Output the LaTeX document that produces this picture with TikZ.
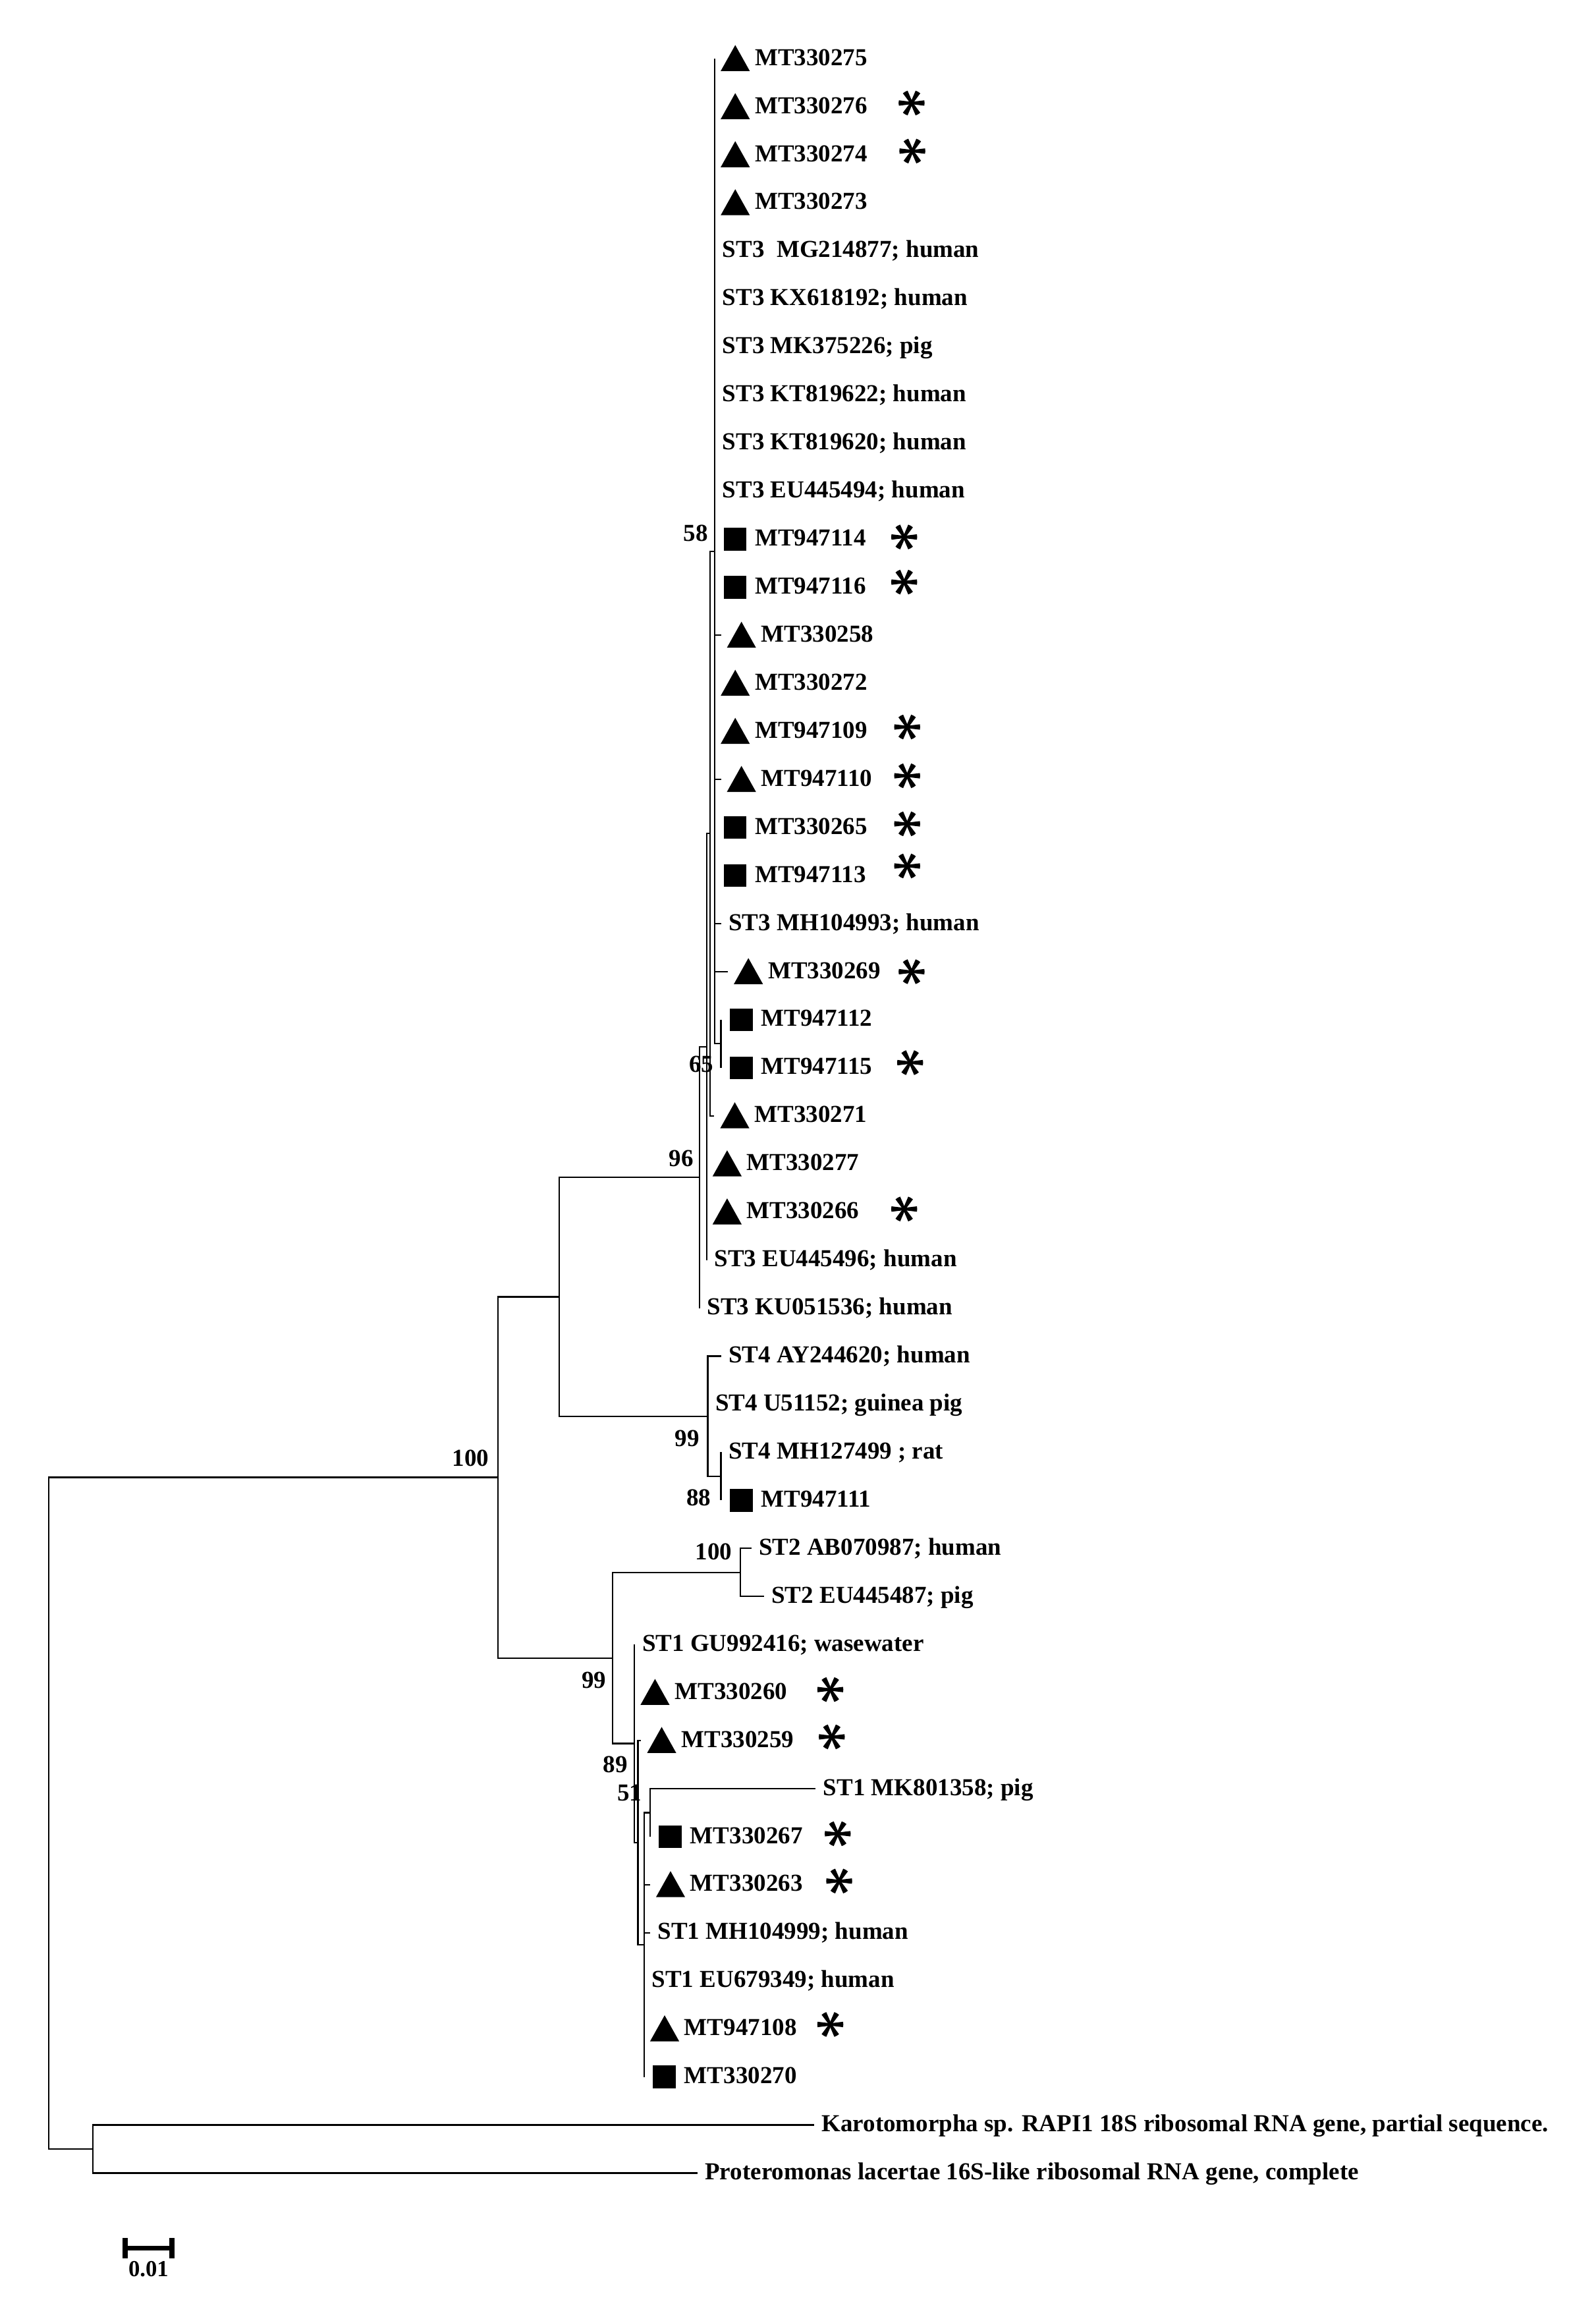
\documentclass[tikz,border=0pt]{standalone}
\usepackage{fontspec}
\setmainfont{Liberation Serif}
\usetikzlibrary{calc}
\newcommand\mkT[4]{%
  \coordinate (t#1) at (#2,{row(#1)});
  \draw[br] (#3) |- (t#1);
  \pic at ($(t#1)+(13.85,0)$) {tri};
  \node[lab] (l#1) at ($(t#1)+(27,4.5)$) {#4};}
\newcommand\mkS[4]{%
  \coordinate (t#1) at (#2,{row(#1)});
  \draw[br] (#3) |- (t#1);
  \pic at ($(t#1)+(13.75,0)$) {sq};
  \node[lab] (l#1) at ($(t#1)+(27,4.5)$) {#4};}
\newcommand\mkX[4]{%
  \coordinate (t#1) at (#2,{row(#1)});
  \draw[br] (#3) |- (t#1);
  \node[lab] (l#1) at ($(t#1)+(5,4.5)$) {#4};}
\newcommand\mkA[3]{\pic at (#2,{row(#1)+#3}) {ast};}
\begin{document}
\begin{tikzpicture}[x=1pt,y=-1pt,
  declare function={row(\i)=39.7+32.52*(\i-1);},
  br/.style={line width=1pt},
  lab/.style={anchor=base west,inner sep=0pt,font=\fontsize{16.5}{16.5}\selectfont\bfseries},
  bs/.style={anchor=center,inner sep=0pt,font=\fontsize{16.5}{16.5}\selectfont\bfseries},
  tri/.pic={\fill (-9.85,8.4) -- (9.85,8.4) -- (0,-9.2) -- cycle;},
  sq/.pic={\fill (-7.75,-7.7) rectangle (7.75,7.7);},
  ast/.pic={\fill (0,0) circle (1.8);
    \foreach \a in {0,60,...,300}{\fill (\a-90:0.8) -- (\a-12:8.8) arc[start angle=\a-12,end angle=\a+12,radius=8.8] -- (\a+90:0.8) -- cycle;}}]
\fill[white] (0,0) rectangle (1080,1568);
\useasboundingbox (0,0) rectangle (1080,1568);
% internal nodes
\coordinate (root) at (33,1227.06);
\coordinate (nOut) at (63,1454.32);
\coordinate (n100) at (337,999.81);
\coordinate (nC) at (378.5,877.60);
\coordinate (n96) at (473.5,796.81);
\coordinate (n65) at (478.3,708.39);
\coordinate (nB) at (480.6,564.09);
\coordinate (nA) at (483.8,373.03);
\coordinate (nSub) at (488,706.36);
\coordinate (nST4) at (479,958.39);
\coordinate (n88) at (488,999.04);
\coordinate (n99b) at (414.7,1122.01);
\coordinate (nST2) at (501,1064.08);
\coordinate (n89) at (429.5,1179.94);
\coordinate (n51) at (431.8,1247.01);
\coordinate (nX) at (436,1316.11);
\coordinate (nY) at (440,1226.68);
% internal edges
\draw[br] (root) |- (n100);
\draw[br] (root) |- (nOut);
\draw[br] (n100) |- (nC);
\draw[br] (n100) |- (n99b);
\draw[br] (nC) |- (n96);
\draw[br] (nC) |- (nST4);
\draw[br] (n96) |- (n65);
\draw[br] (n65) |- (nB);
\draw[br] (nB) |- (nA);
\draw[br] (nA) |- (nSub);
\draw[br] (nST4) |- (n88);
\draw[br] (n99b) |- (nST2);
\draw[br] (n99b) |- (n89);
\draw[br] (n89) |- (n51);
\draw[br] (n51) |- (nX);
\draw[br] (nX) |- (nY);
% leaves
\mkT{1}{483.8}{nA}{MT330275}
\mkT{2}{483.8}{nA}{MT330276}
\mkT{3}{483.8}{nA}{MT330274}
\mkT{4}{483.8}{nA}{MT330273}
\mkX{5}{483.8}{nA}{ST3\ \ MG214877; human}
\mkX{6}{483.8}{nA}{ST3 KX618192; human}
\mkX{7}{483.8}{nA}{ST3 MK375226; pig}
\mkX{8}{483.8}{nA}{ST3 KT819622; human}
\mkX{9}{483.8}{nA}{ST3 KT819620; human}
\mkX{10}{483.8}{nA}{ST3 EU445494; human}
\mkS{11}{483.8}{nA}{MT947114}
\mkS{12}{483.8}{nA}{MT947116}
\mkT{13}{488}{nA}{MT330258}
\mkT{14}{483.8}{nA}{MT330272}
\mkT{15}{483.8}{nA}{MT947109}
\mkT{16}{488}{nA}{MT947110}
\mkS{17}{483.8}{nA}{MT330265}
\mkS{18}{483.8}{nA}{MT947113}
\mkX{19}{488}{nA}{ST3 MH104993; human}
\mkT{20}{492.7}{nA}{MT330269}
\mkS{21}{488}{nSub}{MT947112}
\mkS{22}{488}{nSub}{MT947115}
\mkT{23}{483.5}{nB}{MT330271}
\mkT{24}{478.3}{n65}{MT330277}
\mkT{25}{478.3}{n65}{MT330266}
\mkX{26}{478.3}{n65}{ST3 EU445496; human}
\mkX{27}{473.5}{n96}{ST3 KU051536; human}
\mkX{28}{488}{nST4}{ST4 AY244620; human}
\mkX{29}{479}{nST4}{ST4 U51152; guinea pig}
\mkX{30}{488}{n88}{ST4 MH127499 ; rat}
\mkS{31}{488}{n88}{MT947111}
\mkX{32}{508.5}{nST2}{ST2 AB070987; human}
\mkX{33}{517}{nST2}{ST2 EU445487; pig}
\mkX{34}{429.5}{n89}{ST1 GU992416; wasewater}
\mkT{35}{429.5}{n89}{MT330260}
\mkT{36}{434}{n51}{MT330259}
\mkX{37}{552}{nY}{ST1 MK801358; pig}
\mkS{38}{440}{nY}{MT330267}
\mkT{39}{440}{nX}{MT330263}
\mkX{40}{440}{nX}{ST1 MH104999; human}
\mkX{41}{436}{nX}{ST1 EU679349; human}
\mkT{42}{436}{nX}{MT947108}
\mkS{43}{436}{nX}{MT330270}
\mkX{44}{551}{nOut}{Karotomorpha sp. RAPI1 18S ribosomal RNA gene, partial sequence.}
\mkX{45}{472}{nOut}{Proteromonas lacertae 16S-like ribosomal RNA gene, complete}
% asterisks
\mkA{2}{617}{-2.5}
\mkA{3}{617.5}{-2.5}
\mkA{11}{612}{-1.5}
\mkA{12}{612}{-3.5}
\mkA{15}{614}{-3}
\mkA{16}{614}{-2.5}
\mkA{17}{614}{-2.5}
\mkA{18}{614}{-6.5}
\mkA{20}{617}{0}
\mkA{22}{616}{-3.5}
\mkA{25}{612}{-2}
\mkA{35}{562}{-2}
\mkA{36}{563}{-2.5}
\mkA{38}{567}{-2}
\mkA{39}{568}{-2.5}
\mkA{42}{562}{-3}
% bootstrap values
\node[bs] (b58) at (471,361) {58};
\node[bs] (b65) at (474.7,720) {65};
\node[bs] (b96) at (461,784) {96};
\node[bs] (b100) at (318.6,987) {100};
\node[bs] (b99a) at (465,973.5) {99};
\node[bs] (b88) at (473,1013.5) {88};
\node[bs] (b100b) at (483,1050) {100};
\node[bs] (b99b) at (402,1137) {99};
\node[bs] (b89) at (416.5,1194) {89};
\node[bs] (b51) at (426,1213.5) {51};
% scale bar
\coordinate (sbL) at (83,1521.5);
\coordinate (sbR) at (118,1521.5);
\draw[line width=3pt] (sbL) -- (sbR);
\draw[line width=3.5pt] ($(sbL)+(1.75,-7)$) -- ($(sbL)+(1.75,7)$);
\draw[line width=3.5pt] ($(sbR)+(-1.75,-7)$) -- ($(sbR)+(-1.75,7)$);
\node[inner sep=0pt,font=\fontsize{15.5}{15.5}\selectfont\bfseries] (sbt) at (100.5,1535.5) {0.01};
\end{tikzpicture}
\end{document}
